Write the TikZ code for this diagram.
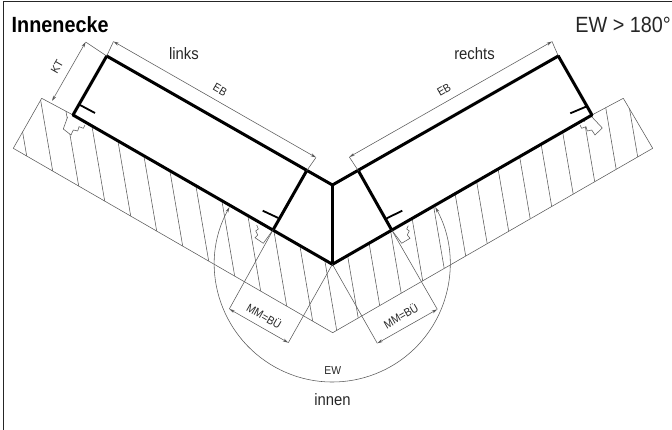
\documentclass[tikz,border=0pt]{standalone}
\usepackage{fontspec}
\setmainfont{Liberation Sans}
\newfontfamily\schmal[FakeStretch=0.9]{Liberation Sans}
\usetikzlibrary{arrows.meta}
\tikzset{
	wand/.style={line width=3pt,black,line cap=round,line join=round},
	steg/.style={line width=1.8pt,black},
	duenn/.style={line width=0.55pt,black!65},
	mass/.style={duenn,{Stealth[length=5.5pt,width=3pt]}-{Stealth[length=5.5pt,width=3pt]}},
	klein/.style={font=\fontsize{11.5}{12}\selectfont\schmal,black!85,inner sep=0pt},
	mittel/.style={font=\fontsize{16.5}{17}\selectfont\schmal,black!85,inner sep=0pt}
}
\begin{document}
\begin{tikzpicture}[x=1pt,y=-1pt,line join=round]
	\useasboundingbox (0,0) rectangle (672,430);
	\def\ha{0.17} % Neigung der Schraffur
	% Ecken der Bauteile
	\coordinate (lo) at (106.7,56);
	\coordinate (lu) at (73,115);
	\coordinate (lm) at (306.5,171);
	\coordinate (ln) at (273.3,229.5);
	\coordinate (ro) at (558.3,56);
	\coordinate (ru) at (592,115);
	\coordinate (rm) at (358.5,171);
	\coordinate (rn) at (391.7,230);
	\coordinate (mo) at (332.4,185);
	\coordinate (mu) at (332.4,264.3);
	% Mauerwerk
	\coordinate (wl) at (41.7,98.3);
	\coordinate (wk) at (13.3,148.3);
	\coordinate (wu) at (332.7,332.7);
	\coordinate (wg) at (652.7,148.3);
	\coordinate (wr) at (623.3,98.3);
	\begin{scope}
		\clip (wl)--(lu)--(mu)--(ru)--(wr)--(wg)--(wu)--(wk)--cycle;
		\foreach \k in {0,...,11}{
			\pgfmathsetmacro\xa{26.7+26*\k}
			\pgfmathsetmacro\ya{148.3+(\xa-13.3)*0.5773}
			\draw[duenn] (\xa,\ya)--(\xa-\ha*90,\ya-90);
		}
		\foreach \k in {0,...,14}{
			\pgfmathsetmacro\xa{336.7+21.5*\k}
			\pgfmathsetmacro\ya{332.7-(\xa-332.7)*0.5763}
			\draw[duenn] (\xa,\ya)--(\xa-\ha*90,\ya-90);
		}
	\end{scope}
	\draw[duenn] (lu)--(wl)--(wk)--(wu)--(wg)--(wr)--(ru);
	% Anschlag
	\draw[duenn,fill=white] (67.7,116.7)--(63.3,129)--(71,135)--(73.3,130)--(77.7,131)--(79,126.7)--(83.3,128.3)--(85,125);
	\draw[duenn,fill=white] (ln)--(263.3,243.3)--(255,237.7)--(257.7,235)--(255.7,231)--(258.3,229)--(256.7,225);
	\draw[duenn,fill=white] (rn)--(401.7,243.3)--(410,238.3)--(407.3,235)--(409.3,231)--(406.7,229)--(408.3,225.7);
	\draw[duenn,fill=white] (591.7,116.7)--(602.3,128)--(595,135)--(591.7,130)--(587.3,131)--(586,126.7)--(581.7,128.3)--(580,125);
	% Fenster
	\draw[wand] (lu)--(lo)--(mo)--(ro)--(ru)--(mu)--cycle;
	\draw[wand] (lm)--(ln);
	\draw[wand] (rm)--(rn);
	\draw[wand] (mo)--(mu);
	\coordinate (sa) at (80,105);
	\coordinate (sb) at (95,113);
	\coordinate (sc) at (262.7,210.7);
	\coordinate (sd) at (278.3,218);
	\coordinate (se) at (386.7,218.3);
	\coordinate (sf) at (402.3,210.7);
	\coordinate (sg) at (586,106.7);
	\coordinate (sh) at (570.3,113.3);
	\draw[steg] (sa)--(sb);
	\draw[steg] (sc)--(sd);
	\draw[steg] (se)--(sf);
	\draw[steg] (sg)--(sh);
	% Masslinien
	\coordinate (ka) at (85.7,42);
	\coordinate (kb) at (52,101);
	\coordinate (ea) at (113.5,41.5);
	\coordinate (eb) at (316,157.5);
	\coordinate (ec) at (349.3,157);
	\coordinate (ed) at (552,41.5);
	\coordinate (ma) at (229.3,309);
	\coordinate (mb) at (288.3,342.7);
	\coordinate (mc) at (377.3,343.3);
	\coordinate (md) at (437.3,309.3);
	\draw[duenn] (ka)--(lo);
	\draw[mass] (ka)--(kb);
	\draw[duenn] (ea)--(lo);
	\draw[mass] (ea)--(eb);
	\draw[duenn] (eb)--(lm);
	\draw[duenn] (ec)--(rm);
	\draw[mass] (ec)--(ed);
	\draw[duenn] (ed)--(ro);
	\draw[duenn] (ma)--(ln);
	\draw[duenn] (mb)--(mu);
	\draw[mass] (ma)--(mb);
	\draw[duenn] (mc)--(mu);
	\draw[duenn] (md)--(rn);
	\draw[mass] (mc)--(md);
	\draw[mass] (mu)++(209:117.7) arc[start angle=209,end angle=-29,radius=117.7];
	% Rahmen
	\draw[line width=1.2pt,black!85] (3.5,430)--(3.5,1.5)--(672,1.5);
	% Texte
	\node[anchor=west,inner sep=0pt,font=\fontsize{22}{24}\selectfont\schmal\bfseries] (titel) at (11.5,24.5) {Innenecke};
	\node[anchor=east,inner sep=0pt,font=\fontsize{22}{24}\selectfont\schmal,black!85] (winkel) at (671,24.5) {EW > 180°};
	\node[mittel] (links) at (184,53.5) {links};
	\node[mittel] (rechts) at (474.5,53.5) {rechts};
	\node[mittel] (innen) at (332.5,400) {innen};
	\node[klein,rotate=60] (kt) at (57,67) {KT};
	\node[klein,rotate=-30] (ebl) at (220,90) {EB};
	\node[klein,rotate=30] (ebr) at (444,90) {EB};
	\node[klein,rotate=-30] (mml) at (264.3,315.7) {MM=BÜ};
	\node[klein,rotate=30] (mmr) at (400.7,315.7) {MM=BÜ};
	\node[klein] (ew) at (332.7,371) {EW};
\end{tikzpicture}
\end{document}
